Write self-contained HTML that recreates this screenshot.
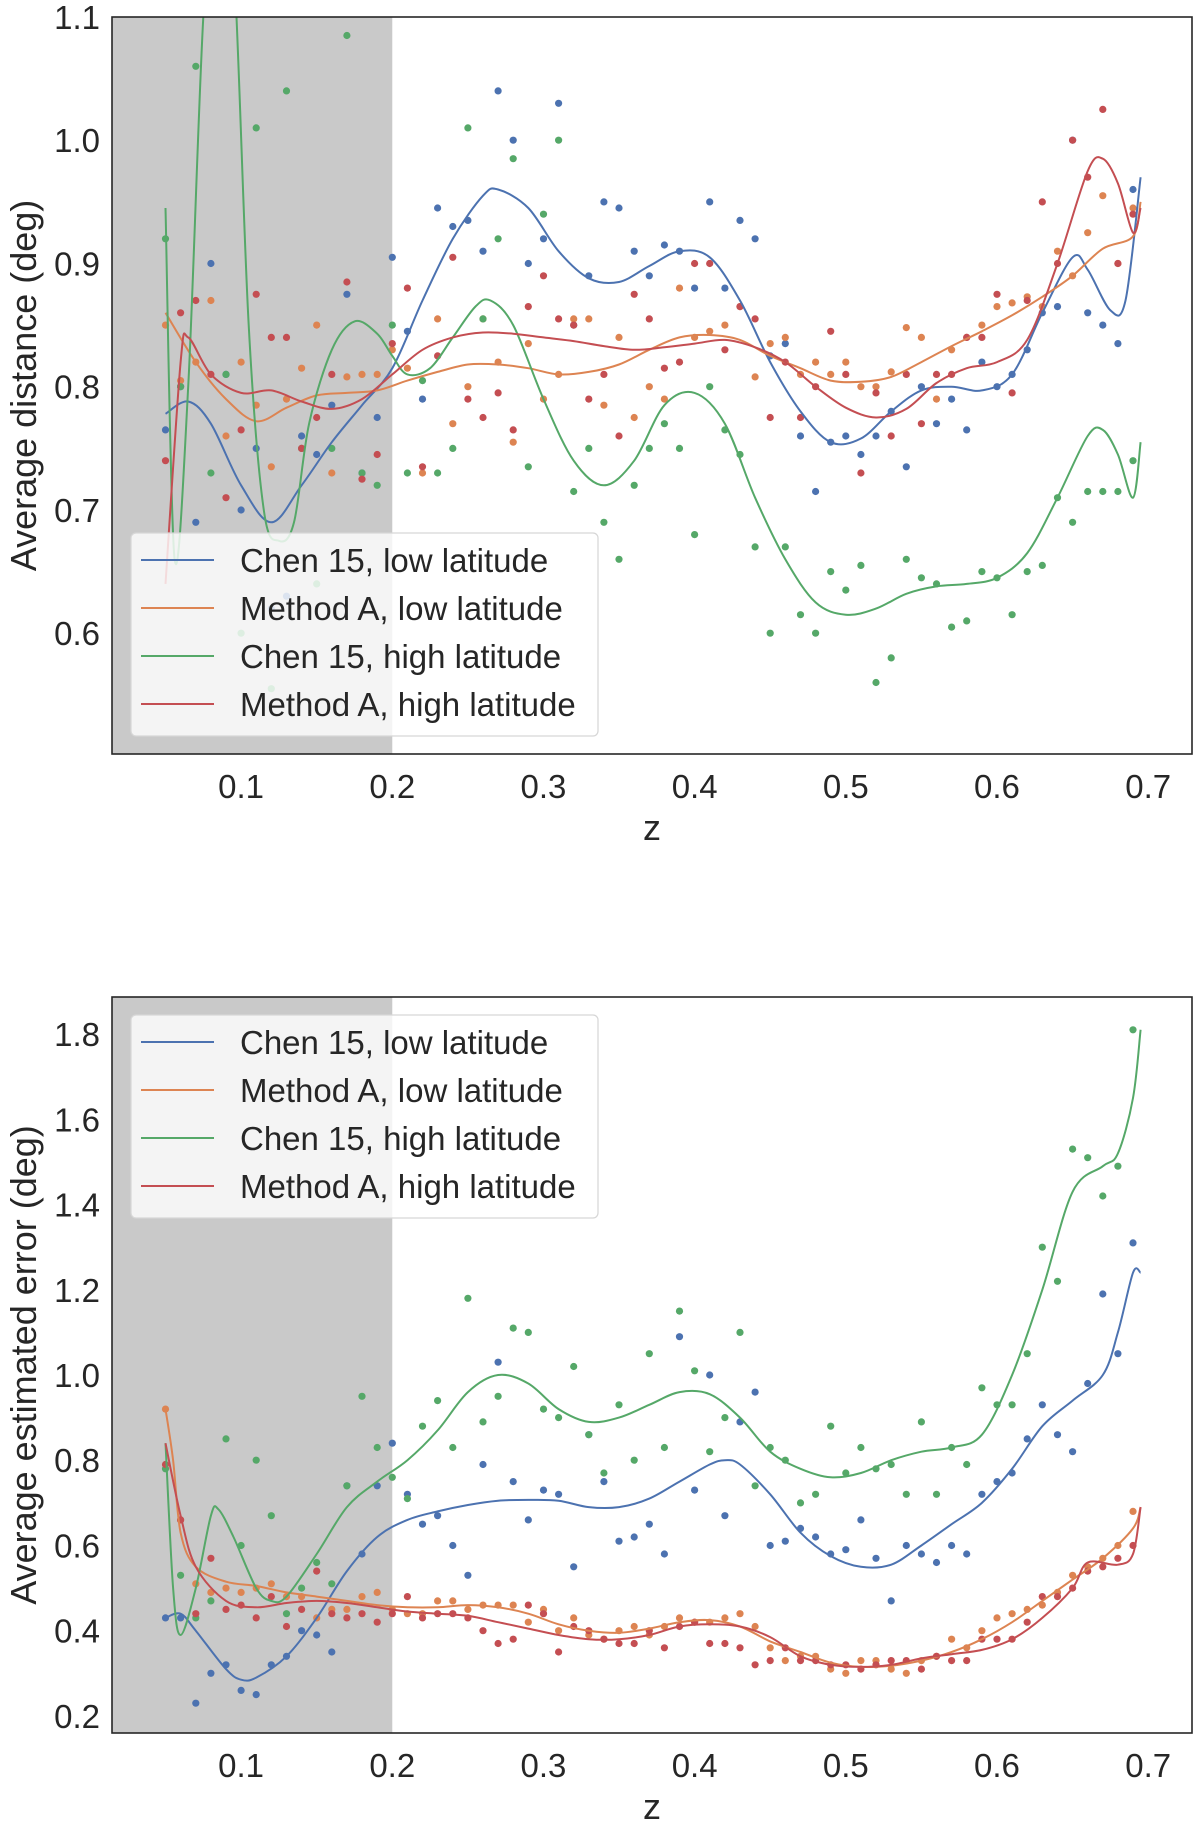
<!DOCTYPE html>
<html><head><meta charset="utf-8">
<style>
html,body{margin:0;padding:0;background:#fff;}
svg{display:block;font-family:"Liberation Sans",sans-serif;}
</style></head>
<body>
<svg id="fig" width="1200" height="1821" viewBox="0 0 1200 1821" xmlns="http://www.w3.org/2000/svg"></svg>
<script>
// ---------- shared data ----------
const scatterZ = [0.05,0.07,0.09,0.11,0.13,0.15,0.17,0.19,0.21,0.23,0.25,0.27,0.29,0.31,0.33,0.35,0.37,0.39,0.41,0.43,0.45,0.47,0.49,0.51,0.53,0.55,0.57,0.59,0.61,0.63,0.65,0.67,0.69];
const scatterZ2 = [0.06,0.08,0.10,0.12,0.14,0.16,0.18,0.20,0.22,0.24,0.26,0.28,0.30,0.32,0.34,0.36,0.38,0.40,0.42,0.44,0.46,0.48,0.50,0.52,0.54,0.56,0.58,0.60,0.62,0.64,0.66,0.68];
const seriesNames = ["Chen 15, low latitude","Method A, low latitude","Chen 15, high latitude","Method A, high latitude"];
const seriesColors = ["#4c72b0","#dd8452","#55a868","#c44e52"];
const xTicks = [0.1,0.2,0.3,0.4,0.5,0.6,0.7];
const xTickLabels = ["0.1","0.2","0.3","0.4","0.5","0.6","0.7"];

// ---------- top panel: average distance ----------
const topYTicks = [0.6,0.7,0.8,0.9,1.0,1.1];
const topYTickLabels = ["0.6","0.7","0.8","0.9","1.0","1.1"];
const topBlueScatter = [0.765,0.69,0.81,0.75,0.63,0.745,0.875,0.775,0.845,0.945,0.935,1.04,0.9,1.03,0.89,0.945,0.89,0.91,0.95,0.935,0.825,0.76,0.755,0.745,0.78,0.8,0.79,0.82,0.81,0.86,1.0,0.85,0.96];
const topOrangeScatter = [0.85,0.82,0.76,0.785,0.79,0.85,0.808,0.81,0.815,0.855,0.8,0.82,0.835,0.81,0.855,0.84,0.8,0.88,0.845,0.865,0.835,0.81,0.81,0.8,0.812,0.84,0.83,0.85,0.868,0.865,0.89,0.955,0.945];
const topGreenScatter = [0.92,1.06,0.81,1.01,1.04,0.64,1.085,0.72,0.73,0.73,1.01,0.92,0.735,1.0,0.75,0.66,0.75,0.75,0.8,0.745,0.6,0.615,0.65,0.655,0.58,0.645,0.605,0.65,0.615,0.655,0.69,0.715,0.74];
const topRedScatter = [0.74,0.87,0.71,0.875,0.84,0.775,0.885,0.745,0.88,0.825,0.79,0.795,0.865,0.855,0.79,0.76,0.855,0.82,0.9,0.865,0.775,0.775,0.845,0.73,0.76,0.77,0.81,0.84,0.795,0.95,1.0,1.025,0.94];
const topBlueScatter2 = [0.8,0.9,0.7,0.62,0.76,0.785,0.73,0.905,0.79,0.93,0.91,1.0,0.92,0.85,0.95,0.91,0.915,0.88,0.88,0.92,0.835,0.715,0.76,0.76,0.735,0.77,0.765,0.8,0.83,0.865,0.86,0.835];
const topOrangeScatter2 = [0.805,0.87,0.82,0.735,0.815,0.73,0.81,0.83,0.73,0.77,0.855,0.755,0.79,0.855,0.785,0.775,0.79,0.84,0.85,0.808,0.84,0.82,0.82,0.8,0.848,0.79,0.84,0.865,0.873,0.91,0.925,0.9];
const topGreenScatter2 = [0.8,0.73,0.6,0.555,0.75,0.75,0.73,0.85,0.805,0.75,0.855,0.985,0.94,0.715,0.69,0.72,0.77,0.68,0.765,0.67,0.67,0.6,0.635,0.56,0.66,0.64,0.61,0.645,0.65,0.71,0.715,0.715];
const topRedScatter2 = [0.86,0.81,0.765,0.84,0.75,0.81,0.725,0.835,0.735,0.905,0.775,0.765,0.89,0.85,0.81,0.875,0.815,0.9,0.83,0.855,0.82,0.8,0.81,0.795,0.81,0.81,0.84,0.875,0.87,0.9,0.97,0.9];
const topBlueLineZ = [0.05,0.065,0.08,0.1,0.12,0.14,0.16,0.18,0.2,0.22,0.24,0.26,0.27,0.29,0.31,0.33,0.35,0.37,0.39,0.41,0.43,0.45,0.47,0.49,0.51,0.53,0.55,0.57,0.59,0.61,0.63,0.65,0.66,0.675,0.685,0.695];
const topBlueLine = [0.778,0.788,0.77,0.72,0.69,0.72,0.755,0.785,0.815,0.87,0.92,0.955,0.96,0.945,0.91,0.888,0.885,0.898,0.91,0.905,0.87,0.82,0.78,0.755,0.758,0.78,0.797,0.8,0.797,0.81,0.86,0.905,0.895,0.862,0.87,0.97];
const topOrangeLineZ = [0.05,0.07,0.09,0.11,0.13,0.15,0.17,0.19,0.21,0.23,0.25,0.27,0.29,0.31,0.33,0.35,0.37,0.39,0.41,0.43,0.45,0.47,0.49,0.51,0.53,0.55,0.57,0.59,0.61,0.63,0.65,0.67,0.69,0.695];
const topOrangeLine = [0.86,0.82,0.79,0.772,0.783,0.793,0.795,0.797,0.805,0.812,0.818,0.818,0.815,0.81,0.812,0.818,0.83,0.84,0.842,0.838,0.825,0.815,0.805,0.804,0.808,0.82,0.833,0.845,0.858,0.873,0.89,0.912,0.922,0.95];
const topGreenLineZ = [0.05,0.056,0.065,0.075,0.085,0.095,0.105,0.115,0.125,0.135,0.145,0.16,0.175,0.19,0.2,0.21,0.225,0.24,0.255,0.265,0.28,0.3,0.32,0.34,0.36,0.38,0.4,0.42,0.44,0.46,0.48,0.5,0.52,0.54,0.56,0.58,0.6,0.62,0.64,0.66,0.67,0.68,0.69,0.695];
const topGreenLine = [0.945,0.66,0.8,1.1,1.25,1.15,0.85,0.7,0.675,0.69,0.77,0.83,0.853,0.843,0.825,0.81,0.815,0.84,0.865,0.87,0.85,0.79,0.74,0.72,0.74,0.785,0.795,0.77,0.71,0.66,0.625,0.615,0.62,0.632,0.638,0.64,0.645,0.665,0.71,0.76,0.765,0.745,0.71,0.755];
const topRedLineZ = [0.05,0.06,0.065,0.08,0.1,0.12,0.14,0.16,0.18,0.2,0.22,0.24,0.26,0.28,0.3,0.32,0.34,0.36,0.38,0.4,0.42,0.44,0.46,0.48,0.5,0.52,0.54,0.56,0.58,0.6,0.62,0.64,0.66,0.67,0.68,0.69,0.695];
const topRedLine = [0.64,0.82,0.84,0.81,0.795,0.797,0.788,0.782,0.79,0.81,0.83,0.84,0.844,0.843,0.84,0.837,0.833,0.83,0.832,0.835,0.838,0.832,0.82,0.8,0.783,0.775,0.782,0.803,0.815,0.82,0.838,0.9,0.975,0.985,0.965,0.925,0.945];

// ---------- bottom panel: average estimated error ----------
const botYTicks = [0.2,0.4,0.6,0.8,1.0,1.2,1.4,1.6,1.8];
const botYTickLabels = ["0.2","0.4","0.6","0.8","1.0","1.2","1.4","1.6","1.8"];
const botBlueScatter = [0.43,0.23,0.32,0.25,0.34,0.39,0.74,0.74,0.72,0.67,0.53,1.03,0.66,0.72,0.86,0.61,0.65,1.09,1.0,0.89,0.6,0.64,0.58,0.66,0.47,0.58,0.6,0.72,0.77,0.93,0.82,1.19,1.31];
const botOrangeScatter = [0.92,0.51,0.5,0.5,0.48,0.43,0.45,0.49,0.44,0.47,0.45,0.46,0.42,0.4,0.39,0.4,0.39,0.43,0.42,0.44,0.36,0.34,0.31,0.33,0.31,0.33,0.38,0.4,0.44,0.46,0.53,0.57,0.68];
const botGreenScatter = [0.78,0.43,0.85,0.8,0.44,0.56,0.74,0.83,0.71,0.94,1.18,0.95,1.1,0.9,0.86,0.93,1.05,1.15,0.82,1.1,0.83,0.7,0.88,0.83,0.79,0.89,0.83,0.97,0.93,1.3,1.53,1.42,1.81];
const botRedScatter = [0.79,0.44,0.45,0.43,0.41,0.54,0.43,0.42,0.48,0.44,0.43,0.37,0.46,0.35,0.4,0.37,0.4,0.41,0.37,0.36,0.33,0.33,0.32,0.31,0.33,0.31,0.33,0.38,0.38,0.48,0.5,0.55,0.6];
const botBlueScatter2 = [0.43,0.3,0.26,0.32,0.4,0.35,0.58,0.84,0.65,0.6,0.79,0.75,0.73,0.55,0.75,0.62,0.58,0.73,0.67,0.96,0.61,0.62,0.59,0.57,0.6,0.56,0.58,0.75,0.85,0.86,0.98,1.05];
const botOrangeScatter2 = [0.66,0.49,0.49,0.51,0.48,0.45,0.48,0.45,0.44,0.47,0.46,0.46,0.45,0.43,0.38,0.41,0.41,0.42,0.43,0.41,0.33,0.34,0.3,0.33,0.3,0.34,0.36,0.43,0.45,0.49,0.55,0.6];
const botGreenScatter2 = [0.53,0.47,0.6,0.67,0.5,0.51,0.95,0.76,0.88,0.83,0.89,1.11,0.92,1.02,0.77,0.8,0.83,1.01,0.9,0.74,0.8,0.72,0.77,0.78,0.72,0.72,0.79,0.93,1.05,1.22,1.51,1.49];
const botRedScatter2 = [0.66,0.57,0.46,0.48,0.45,0.44,0.44,0.44,0.43,0.44,0.4,0.38,0.44,0.41,0.38,0.37,0.36,0.42,0.37,0.32,0.36,0.33,0.32,0.32,0.33,0.34,0.33,0.38,0.42,0.48,0.54,0.57];
const botBlueLineZ = [0.05,0.06,0.07,0.09,0.1,0.11,0.13,0.15,0.17,0.19,0.21,0.23,0.25,0.27,0.29,0.31,0.33,0.35,0.37,0.39,0.41,0.42,0.43,0.45,0.47,0.49,0.51,0.53,0.55,0.57,0.59,0.61,0.63,0.65,0.67,0.68,0.69,0.695];
const botBlueLine = [0.43,0.44,0.4,0.31,0.285,0.29,0.34,0.43,0.54,0.62,0.66,0.68,0.695,0.705,0.707,0.705,0.69,0.69,0.71,0.75,0.79,0.8,0.79,0.72,0.63,0.575,0.55,0.555,0.6,0.65,0.7,0.78,0.88,0.94,1.0,1.1,1.24,1.24];
const botOrangeLineZ = [0.05,0.055,0.06,0.07,0.09,0.11,0.13,0.15,0.17,0.19,0.21,0.23,0.25,0.27,0.29,0.31,0.33,0.35,0.37,0.39,0.41,0.43,0.45,0.47,0.49,0.51,0.53,0.55,0.57,0.59,0.61,0.63,0.65,0.67,0.69,0.695];
const botOrangeLine = [0.92,0.8,0.63,0.55,0.515,0.505,0.49,0.48,0.47,0.46,0.455,0.455,0.46,0.455,0.44,0.415,0.4,0.395,0.405,0.42,0.425,0.41,0.375,0.35,0.325,0.315,0.318,0.33,0.35,0.38,0.42,0.47,0.52,0.57,0.64,0.69];
const botGreenLineZ = [0.05,0.055,0.06,0.07,0.08,0.085,0.095,0.11,0.12,0.13,0.15,0.17,0.19,0.21,0.23,0.25,0.27,0.29,0.31,0.33,0.35,0.37,0.39,0.41,0.43,0.45,0.47,0.49,0.51,0.53,0.55,0.57,0.59,0.61,0.63,0.65,0.67,0.68,0.69,0.695];
const botGreenLine = [0.84,0.5,0.39,0.5,0.67,0.685,0.62,0.5,0.47,0.48,0.58,0.69,0.75,0.8,0.87,0.96,1.0,0.98,0.92,0.89,0.9,0.93,0.96,0.955,0.9,0.82,0.78,0.76,0.77,0.8,0.82,0.83,0.86,1.0,1.2,1.43,1.49,1.52,1.65,1.81];
const botRedLineZ = [0.05,0.06,0.07,0.09,0.11,0.13,0.15,0.17,0.19,0.21,0.23,0.25,0.27,0.29,0.31,0.33,0.35,0.37,0.39,0.41,0.43,0.45,0.47,0.49,0.51,0.53,0.55,0.57,0.59,0.61,0.63,0.65,0.66,0.68,0.69,0.695];
const botRedLine = [0.84,0.67,0.55,0.47,0.455,0.465,0.47,0.465,0.455,0.445,0.44,0.435,0.42,0.405,0.39,0.38,0.38,0.39,0.41,0.415,0.41,0.385,0.34,0.32,0.315,0.32,0.335,0.345,0.355,0.38,0.43,0.5,0.56,0.555,0.58,0.69];

// ---------- rendering ----------
const NS = "http://www.w3.org/2000/svg";
const svg = document.getElementById("fig");
function mk(tag, attrs, parent){
  const e = document.createElementNS(NS, tag);
  for (const k in attrs) e.setAttribute(k, attrs[k]);
  (parent||svg).appendChild(e);
  return e;
}
function smoothPath(pts){
  let d = "M" + pts[0][0].toFixed(1) + "," + pts[0][1].toFixed(1);
  for (let i=0;i<pts.length-1;i++){
    const p0 = pts[Math.max(0,i-1)], p1 = pts[i], p2 = pts[i+1], p3 = pts[Math.min(pts.length-1,i+2)];
    const t = 6;
    const c1x = p1[0] + (p2[0]-p0[0])/t, c1y = p1[1] + (p2[1]-p0[1])/t;
    const c2x = p2[0] - (p3[0]-p1[0])/t, c2y = p2[1] - (p3[1]-p1[1])/t;
    d += " C" + c1x.toFixed(1)+","+c1y.toFixed(1)+" "+c2x.toFixed(1)+","+c2y.toFixed(1)+" "+p2[0].toFixed(1)+","+p2[1].toFixed(1);
  }
  return d;
}

function drawPanel(cfg){
  const L=112, R=1192, T=cfg.top, B=cfg.bottom;
  const xMin=0.0146, xMax=0.729;
  const xs = v => L + (v-xMin)/(xMax-xMin)*(R-L);
  const ys = v => B - (v-cfg.yMin)/(cfg.yMax-cfg.yMin)*(B-T);
  const g = mk("g", {});
  
  
  const clipId = cfg.name + "-clip";
  const cp = mk("clipPath", {id: clipId}, g);
  mk("rect", {x:L, y:T, width:R-L, height:B-T}, cp);
  const shade = mk("rect", {x:L, y:T, width:xs(0.2)-L, height:B-T, fill:"#c9c9c9"}, g);
  
  
  const plot = mk("g", {"clip-path":"url(#"+clipId+")"}, g);
  
  
  const keys = ["blue","orange","green","red"];
  cfg.scatter.forEach((arr, si) => {
    const sg = mk("g", {fill: seriesColors[si]}, plot);
    
    
    arr.forEach((v, i) => {
      const c = mk("circle", {cx: xs(scatterZ[i]).toFixed(1), cy: ys(v).toFixed(1), r: 3.6}, sg);
      
      
    });
    cfg.scatter2[si].forEach((v, i) => {
      const c = mk("circle", {cx: xs(scatterZ2[i]).toFixed(1), cy: ys(v).toFixed(1), r: 3.6}, sg);
      
      
    });
  });
  cfg.lines.forEach((ln, si) => {
    const pts = ln[0].map((z,i)=>[xs(z), ys(ln[1][i])]);
    const p = mk("path", {d: smoothPath(pts), fill:"none", stroke: seriesColors[si], "stroke-width":2}, plot);
    
    
  });
  const fr = mk("rect", {x:L, y:T, width:R-L, height:B-T, fill:"none", stroke:"#262626", "stroke-width":1.6}, g);
  
  
  xTicks.forEach((t,i) => {
    const tx = mk("text", {x: xs(t), y: B+44, "text-anchor":"middle", "font-size":33, fill:"#262626"}, g);
    tx.textContent = xTickLabels[i];
    
    
  });
  cfg.yTicks.forEach((t,i) => {
    const ty = mk("text", {x: L-12, y: ys(t)+12, "text-anchor":"end", "font-size":33, fill:"#262626"}, g);
    ty.textContent = cfg.yTickLabels[i];
    
    
  });
  const xl = mk("text", {x:(L+R)/2, y:B+86, "text-anchor":"middle", "font-size":36, fill:"#262626"}, g);
  xl.textContent = "z";
  
  
  const cy = (T+B)/2;
  const yl = mk("text", {x:36, y:cy, "text-anchor":"middle", "font-size":36, fill:"#262626", transform:"rotate(-90 36 "+cy+")"}, g);
  yl.textContent = cfg.yLabel;
  
  
  const lg = mk("g", {}, g);
  
  
  mk("rect", {x:131, y:cfg.legendTop, width:467, height:203, rx:5, fill:"#ffffff", "fill-opacity":0.8, stroke:"#d6d6d6", "stroke-width":1.2}, lg);
  seriesNames.forEach((n,i) => {
    const yy = cfg.legendTop + 27 + i*48;
    const e = mk("g", {}, lg);
    
    
    mk("line", {x1:141, x2:214, y1:yy, y2:yy, stroke:seriesColors[i], "stroke-width":2}, e);
    const tx = mk("text", {x:240, y:yy+12, "font-size":33, fill:"#262626"}, e);
    tx.textContent = n;
  });
}

drawPanel({name:"distance-panel", top:17, bottom:754, yMin:0.502, yMax:1.1,
  yTicks: topYTicks, yTickLabels: topYTickLabels, yLabel:"Average distance (deg)", legendTop:533,
  scatter:[topBlueScatter, topOrangeScatter, topGreenScatter, topRedScatter],
  scatter2:[topBlueScatter2, topOrangeScatter2, topGreenScatter2, topRedScatter2],
  lines:[[topBlueLineZ,topBlueLine],[topOrangeLineZ,topOrangeLine],[topGreenLineZ,topGreenLine],[topRedLineZ,topRedLine]]});
drawPanel({name:"error-panel", top:997, bottom:1733, yMin:0.16, yMax:1.887,
  yTicks: botYTicks, yTickLabels: botYTickLabels, yLabel:"Average estimated error (deg)", legendTop:1015,
  scatter:[botBlueScatter, botOrangeScatter, botGreenScatter, botRedScatter],
  scatter2:[botBlueScatter2, botOrangeScatter2, botGreenScatter2, botRedScatter2],
  lines:[[botBlueLineZ,botBlueLine],[botOrangeLineZ,botOrangeLine],[botGreenLineZ,botGreenLine],[botRedLineZ,botRedLine]]});
</script>
</body></html>
